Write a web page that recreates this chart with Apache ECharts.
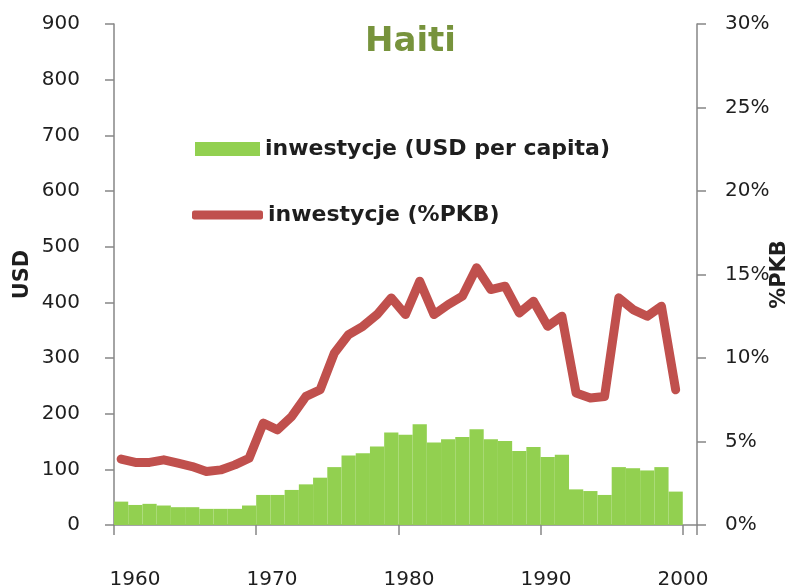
<!DOCTYPE html>
<html>
<head>
<meta charset="utf-8">
<script src="https://cdn.jsdelivr.net/npm/echarts@6/dist/echarts.min.js"></script>
<style>html,body{margin:0;padding:0;background:#fff}#c{width:800px;height:586px}</style>
</head>
<body>
<div id="c"></div>
<script>
var years = ['1960','1961','1962','1963','1964','1965','1966','1967','1968','1969',
             '1970','1971','1972','1973','1974','1975','1976','1977','1978','1979',
             '1980','1981','1982','1983','1984','1985','1986','1987','1988','1989',
             '1990','1991','1992','1993','1994','1995','1996','1997','1998','1999','2000'];
var usdPerCapita = [42, 36, 38, 35, 32, 32, 29, 29, 29, 35,
                    54, 54, 63, 73, 85, 104, 125, 129, 141, 166,
                    162, 181, 148, 154, 158, 172, 154, 151, 133, 140,
                    122, 126, 64, 61, 54, 104, 102, 98, 104, 60];
var pctGDP = [3.95, 3.75, 3.75, 3.9, 3.7, 3.5, 3.2, 3.3, 3.6, 4.0,
              6.1, 5.7, 6.5, 7.7, 8.1, 10.3, 11.4, 11.9, 12.6, 13.6,
              12.6, 14.6, 12.6, 13.2, 13.7, 15.4, 14.1, 14.3, 12.7, 13.4,
              11.9, 12.5, 7.9, 7.6, 7.7, 13.6, 12.9, 12.5, 13.1, 8.1];
var yearTickLabels = [1960, 1970, 1980, 1990, 2000];
var usdTicks = [0, 100, 200, 300, 400, 500, 600, 700, 800, 900];
var pctTicks = [0, 5, 10, 15, 20, 25, 30];

var axisGray = '#868686';
var txt = '#1e1e1e';
var font = 'DejaVu Sans';

var chart = echarts.init(document.getElementById('c'), null, {renderer: 'canvas'});
chart.setOption({
  backgroundColor: '#ffffff',
  animation: false,
  title: {
    text: 'Haiti',
    left: 360, top: 20,
    textStyle: {fontFamily: font, fontSize: 34, fontWeight: 'bold', color: '#77933c'}
  },
  legend: [
    {
      data: [{name: 'inwestycje (USD per capita)', icon: 'rect'}],
      left: 195, top: 138, padding: 0,
      itemWidth: 65, itemHeight: 14,
      textStyle: {fontFamily: font, fontSize: 22, fontWeight: 'bold', color: txt}
    },
    {
      data: [{name: 'inwestycje (%PKB)', icon: 'roundRect'}],
      left: 192, top: 204, padding: 0,
      itemWidth: 71, itemHeight: 9,
      textStyle: {fontFamily: font, fontSize: 22, fontWeight: 'bold', color: txt}
    }
  ],
  grid: {left: 114, right: 103, top: 24, bottom: 61, containLabel: false, outerBoundsMode: 'none'},
  xAxis: [
    {
      type: 'category',
      data: years,
      position: 'bottom',
      boundaryGap: true,
      axisLine: {show: true, lineStyle: {color: axisGray, width: 1.5}},
      axisTick: {show: true, interval: 9, length: 10, lineStyle: {color: axisGray, width: 1.5}},
      axisLabel: {show: false},
      splitLine: {show: false}
    },
    {
      type: 'value',
      position: 'bottom',
      min: 1958.47,
      max: 2001.02,
      axisLine: {show: false},
      axisTick: {show: false},
      splitLine: {show: false},
      axisLabel: {
        show: true,
        customValues: yearTickLabels,
        margin: 45,
        fontFamily: font, fontSize: 20, color: txt,
        formatter: function (v) { return String(Math.round(v)); }
      }
    }
  ],
  yAxis: [
    {
      type: 'value',
      min: usdTicks[0], max: usdTicks[usdTicks.length - 1], interval: 100,
      position: 'left',
      name: 'USD',
      nameLocation: 'middle',
      nameRotate: 90,
      nameGap: 81,
      nameMoveOverlap: false,
      nameTextStyle: {fontFamily: font, fontSize: 21, fontWeight: 'bold', color: txt},
      axisLine: {show: true, lineStyle: {color: axisGray, width: 1.5}},
      axisTick: {show: true, length: 9, lineStyle: {color: axisGray, width: 1.5}},
      axisLabel: {margin: 34, fontFamily: font, fontSize: 20, color: txt},
      splitLine: {show: false}
    },
    {
      type: 'value',
      min: pctTicks[0], max: pctTicks[pctTicks.length - 1], interval: 5,
      position: 'right',
      name: '%PKB',
      nameLocation: 'middle',
      nameRotate: 90,
      nameGap: 72,
      nameMoveOverlap: false,
      nameTextStyle: {fontFamily: font, fontSize: 21, fontWeight: 'bold', color: txt},
      axisLine: {show: true, lineStyle: {color: axisGray, width: 1.5}},
      axisTick: {show: true, length: 9, lineStyle: {color: axisGray, width: 1.5}},
      axisLabel: {margin: 28, fontFamily: font, fontSize: 20, color: txt, formatter: '{value}%'},
      splitLine: {show: false}
    }
  ],
  series: [
    {
      name: 'inwestycje (USD per capita)',
      type: 'bar',
      xAxisIndex: 0,
      yAxisIndex: 0,
      data: usdPerCapita,
      barCategoryGap: '0%',
      itemStyle: {color: '#92d050'}
    },
    {
      name: 'inwestycje (%PKB)',
      type: 'line',
      xAxisIndex: 0,
      yAxisIndex: 1,
      data: pctGDP,
      showSymbol: false,
      symbol: 'none',
      lineStyle: {color: '#c0504d', width: 9, join: 'round', cap: 'round'},
      itemStyle: {color: '#c0504d'},
      z: 3
    }
  ]
});
</script>
</body>
</html>
